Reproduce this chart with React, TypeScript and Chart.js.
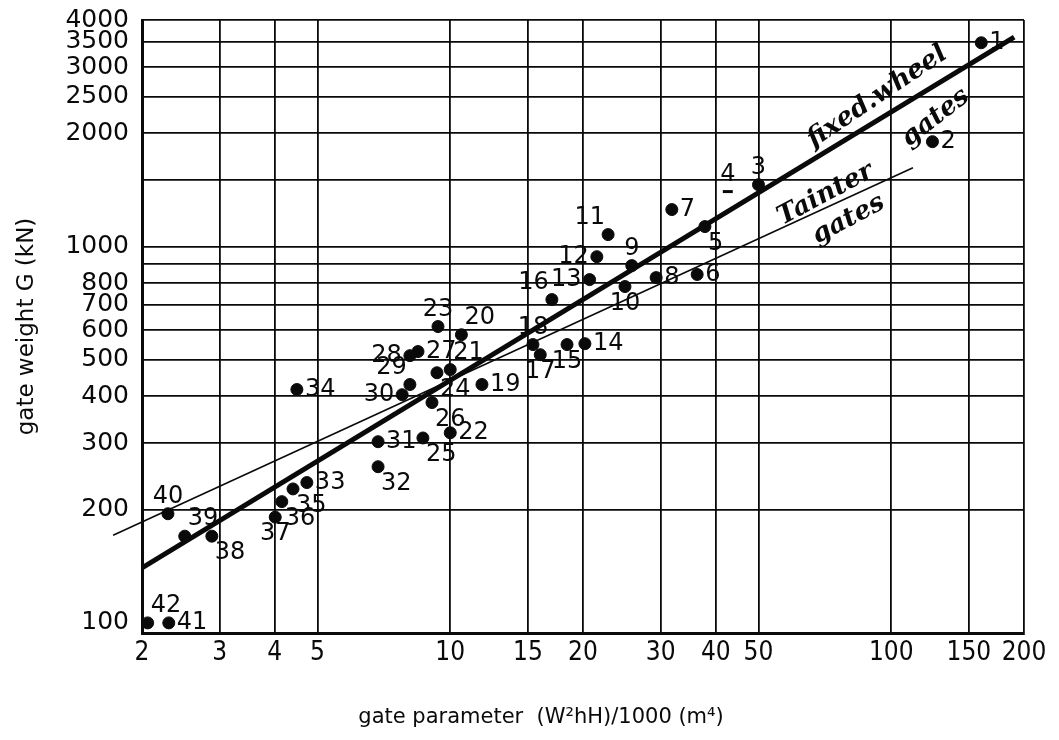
import React, { useEffect, useRef } from 'react';
import { Chart, registerables } from 'chart.js';

Chart.register(...registerables);

// ---- data (log-log) ----
const gateIds = [
  1, 2, 3, 4, 5, 6, 7, 8, 9, 10, 11, 12, 13, 14, 15, 16, 17, 18, 19, 20, 21,
  22, 23, 24, 25, 26, 27, 28, 29, 30, 31, 32, 33, 34, 35, 36, 37, 38, 39, 40, 41, 42,
];
// gate parameter (W²hH)/1000 (m⁴)
const gateParameter = [
  160, 124, 50, 42.6, 37.8, 36.3, 31.8, 29.3, 25.8, 24.9, 22.8, 21.5, 20.7, 20.2,
  18.4, 17.0, 16.0, 15.4, 11.8, 10.6, 10.0, 10.0, 9.38, 9.33, 8.67, 9.09, 8.45,
  8.1, 8.1, 7.78, 6.86, 6.86, 4.73, 4.49, 4.4, 4.15, 4.01, 2.88, 2.5, 2.29, 2.3, 2.06,
];
// gate weight G (kN)
const gateWeight = [
  3480, 1900, 1460, 1400, 1130, 843, 1254, 827, 890, 783, 1076, 940, 817, 552,
  549, 723, 516, 549, 430, 583, 471, 320, 613, 462, 310, 385, 526,
  513, 430, 404, 303, 260, 236, 417, 227, 210, 191, 170, 170, 195, 100, 100,
];
// which side of its dot each number sits on
const labelSide = [
  'r', 'r', 't', 't', 'br', 'r', 'r', 'r', 't', 'b', 'tl', 'l', 'l', 'r', 'b', 'tl',
  'b', 't', 'r', 'tr', 'tr', 'r', 't', 'br', 'br', 'br', 'r', 'l', 'tl', 'l', 'r',
  'br', 'r', 'r', 'br', 'br', 'b', 'br', 'tr', 't', 'r', 'tr',
];

// fitted lines
const fixedWheelX = [2, 190];
const fixedWheelY = [140, 3600];
const tainterX = [1.72, 112];
const tainterY = [171, 1620];

// handwritten annotations (data coordinates)
const noteText = ['fixed.wheel', 'gates', 'Tainter', 'gates'];
const noteX = [93, 126, 71, 80];
const noteY = [2500, 2200, 1375, 1180];
const noteAngle = [-34, -38, -28, -28];

// axes
const xTickValues = [2, 3, 4, 5, 10, 15, 20, 30, 40, 50, 100, 150, 200];
const yGridValues = [100, 200, 300, 400, 500, 600, 700, 800, 900, 1000, 1500, 2000, 2500, 3000, 3500, 4000];
const yTickLabels = [100, 200, 300, 400, 500, 600, 700, 800, 1000, 2000, 2500, 3000, 3500, 4000];
const xTitle = 'gate parameter  (W\u00B2hH)/1000 (m\u2074)';
const yTitle = 'gate weight G (kN)';

const INK = '#0a0a0a';

const annotPlugin = {
  id: 'annot',
  afterDatasetsDraw(chart: any) {
    const ctx = chart.ctx;
    const xs = chart.scales.x;
    const ys = chart.scales.y;
    ctx.save();
    // point numbers
    ctx.fillStyle = INK;
    ctx.font = '24px "DejaVu Sans", sans-serif';
    gateIds.forEach((id, i) => {
      const px = xs.getPixelForValue(gateParameter[i]);
      const py = ys.getPixelForValue(gateWeight[i]);
      const s = labelSide[i];
      let dx = 0;
      let dy = 0;
      const diag = s.length === 2;
      if (s.includes('r')) dx = diag ? 3 : 8;
      if (s.includes('l')) dx = diag ? -3 : -8;
      if (s.includes('t')) dy = -5;
      if (s.includes('b')) dy = 5;
      ctx.textAlign = dx > 0 ? 'left' : dx < 0 ? 'right' : 'center';
      ctx.textBaseline = dy < 0 ? 'bottom' : dy > 0 ? 'top' : 'middle';
      ctx.fillText(String(id), px + dx, py + dy);
    });
    // handwritten notes
    ctx.font = 'italic 600 26px "DejaVu Serif", serif';
    ctx.textAlign = 'center';
    ctx.textBaseline = 'middle';
    noteText.forEach((t, i) => {
      const px = xs.getPixelForValue(noteX[i]);
      const py = ys.getPixelForValue(noteY[i]);
      ctx.save();
      ctx.translate(px, py);
      ctx.rotate((noteAngle[i] * Math.PI) / 180);
      ctx.fillText(t, 0, 0);
      ctx.restore();
    });
    // x-axis title
    const ca = chart.chartArea;
    ctx.font = '21px "DejaVu Sans", sans-serif';
    ctx.textAlign = 'center';
    ctx.textBaseline = 'middle';
    ctx.fillText(xTitle, (ca.left + ca.right) / 2 - 42, chart.height - 14);
    ctx.restore();
  },
};

export default function App() {
  const ref = useRef<HTMLCanvasElement | null>(null);
  useEffect(() => {
    if (!ref.current) return;
    const chart = new Chart(ref.current, {
      type: 'scatter',
      data: {
        datasets: [
          {
            label: 'gates',
            data: gateParameter.map((x, i) => ({ x, y: gateWeight[i] })),
            backgroundColor: INK,
            borderColor: INK,
            pointRadius: gateIds.map((id) => (id === 4 ? 5 : 6)),
            pointStyle: gateIds.map((id) => (id === 4 ? 'line' : 'circle')),
            pointBorderWidth: gateIds.map((id) => (id === 4 ? 3 : 1)),
            order: 0,
          },
          {
            label: 'fixed-wheel gates',
            data: fixedWheelX.map((x, i) => ({ x, y: fixedWheelY[i] })),
            showLine: true,
            borderColor: INK,
            borderWidth: 5,
            pointRadius: 0,
            order: 1,
          },
          {
            label: 'Tainter gates',
            data: tainterX.map((x, i) => ({ x, y: tainterY[i] })),
            showLine: true,
            borderColor: INK,
            borderWidth: 1.6,
            pointRadius: 0,
            clip: false,
            order: 2,
          } as any,
        ],
      },
      options: {
        animation: false,
        responsive: false,
        devicePixelRatio: 1,
        layout: { padding: { top: 12, right: 27, left: 0, bottom: 0 } },
        plugins: { legend: { display: false }, tooltip: { enabled: false } },
        scales: {
          x: {
            type: 'logarithmic',
            min: 2,
            max: 200,
            afterBuildTicks: (s: any) => {
              s.ticks = xTickValues.map((v) => ({ value: v }));
            },
            afterFit: (s: any) => {
              s.height = 99;
              s.paddingLeft = 0;
              s.paddingRight = 0;
            },
            border: { display: true, color: INK, width: 3 },
            grid: { color: INK, lineWidth: 1.8, drawTicks: false },
            ticks: {
              autoSkip: false,
              maxRotation: 0,
              padding: 5,
              color: INK,
              font: { family: '"Liberation Sans Narrow", "DejaVu Sans Condensed", sans-serif', size: 26 },
              callback: (v: any) => String(v),
            },
          },
          y: {
            type: 'logarithmic',
            min: 94,
            max: 4000,
            afterBuildTicks: (s: any) => {
              s.ticks = yGridValues.map((v) => ({ value: v }));
            },
            afterFit: (s: any) => {
              s.width = 134;
              s.paddingTop = 0;
              s.paddingBottom = 0;
            },
            border: { display: true, color: INK, width: 3 },
            grid: {
              color: (c: any) => (c.tick && c.tick.value === 100 ? 'rgba(0,0,0,0)' : INK),
              lineWidth: 1.8,
              drawTicks: false,
            },
            ticks: {
              autoSkip: false,
              padding: 13,
              color: INK,
              font: { family: '"DejaVu Sans", sans-serif', size: 25 },
              callback: (v: any) => (yTickLabels.includes(Number(v)) ? String(v) : ''),
            },
            title: {
              display: true,
              text: yTitle,
              color: INK,
              font: { family: '"DejaVu Sans", sans-serif', size: 23 },
              padding: { top: 5, bottom: 0 },
            },
          },
        },
      },
      plugins: [annotPlugin],
    });
    return () => chart.destroy();
  }, []);
  return (
    <div style={{ width: 1043, height: 724 }}>
      <canvas ref={ref} width={1043} height={724} style={{ display: 'block' }} />
    </div>
  );
}
